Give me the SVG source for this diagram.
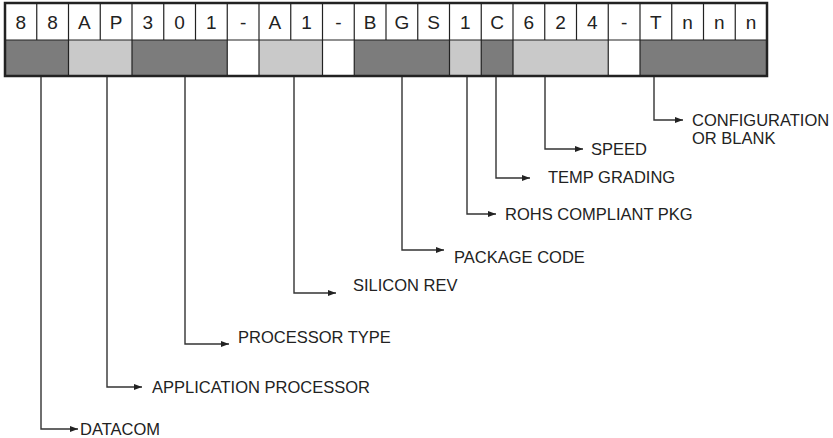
<svg xmlns="http://www.w3.org/2000/svg" width="833" height="438" viewBox="0 0 833 438">
<defs>
<style>
.cell{font-family:"Liberation Sans",Arial,sans-serif;font-size:19px;fill:#222;text-anchor:middle}
.lbl{font-family:"Liberation Sans",Arial,sans-serif;font-size:16.5px;fill:#222}
.dk{fill:#7c7c7c}
.lt{fill:#c9c9c9}
.wt{fill:#ffffff}
.div{stroke:#222;stroke-width:1.2}
.con{fill:none;stroke:#333;stroke-width:1.4}
</style>
<marker id="ah" viewBox="0 0 8 6" refX="8" refY="3" markerWidth="8" markerHeight="6" markerUnits="userSpaceOnUse" orient="auto">
<path d="M0,0 L8,3 L0,6 Z" fill="#222"/>
</marker>
</defs>
<rect width="833" height="438" fill="#fff"/>
<g id="code-box">
<rect x="5" y="3" width="762" height="73" fill="#fff"/>
<rect class="dk" x="5" y="40" width="63.5" height="36"/>
<rect class="lt" x="68.5" y="40" width="63.5" height="36"/>
<rect class="dk" x="132" y="40" width="95.25" height="36"/>
<rect class="wt" x="227.25" y="40" width="31.75" height="36"/>
<rect class="lt" x="259" y="40" width="63.5" height="36"/>
<rect class="wt" x="322.5" y="40" width="31.75" height="36"/>
<rect class="dk" x="354.25" y="40" width="95.25" height="36"/>
<rect class="lt" x="449.5" y="40" width="31.75" height="36"/>
<rect class="dk" x="481.25" y="40" width="31.75" height="36"/>
<rect class="lt" x="513" y="40" width="95.25" height="36"/>
<rect class="wt" x="608.25" y="40" width="31.75" height="36"/>
<rect class="dk" x="640" y="40" width="127" height="36"/>
<g class="div">
<line x1="5" y1="40" x2="767" y2="40"/>
<line x1="36.75" y1="3" x2="36.75" y2="40"/>
<line x1="68.5" y1="3" x2="68.5" y2="76"/>
<line x1="100.25" y1="3" x2="100.25" y2="40"/>
<line x1="132" y1="3" x2="132" y2="76"/>
<line x1="163.75" y1="3" x2="163.75" y2="40"/>
<line x1="195.5" y1="3" x2="195.5" y2="40"/>
<line x1="227.25" y1="3" x2="227.25" y2="76"/>
<line x1="259" y1="3" x2="259" y2="76"/>
<line x1="290.75" y1="3" x2="290.75" y2="40"/>
<line x1="322.5" y1="3" x2="322.5" y2="76"/>
<line x1="354.25" y1="3" x2="354.25" y2="76"/>
<line x1="386" y1="3" x2="386" y2="40"/>
<line x1="417.75" y1="3" x2="417.75" y2="40"/>
<line x1="449.5" y1="3" x2="449.5" y2="76"/>
<line x1="481.25" y1="3" x2="481.25" y2="76"/>
<line x1="513" y1="3" x2="513" y2="76"/>
<line x1="544.75" y1="3" x2="544.75" y2="40"/>
<line x1="576.5" y1="3" x2="576.5" y2="40"/>
<line x1="608.25" y1="3" x2="608.25" y2="76"/>
<line x1="640" y1="3" x2="640" y2="76"/>
<line x1="671.75" y1="3" x2="671.75" y2="40"/>
<line x1="703.5" y1="3" x2="703.5" y2="40"/>
<line x1="735.25" y1="3" x2="735.25" y2="40"/>
</g>
<rect x="5" y="3" width="762" height="73" fill="none" stroke="#222" stroke-width="2.5"/>
<g class="cell">
<text x="20.9" y="29">8</text>
<text x="52.6" y="29">8</text>
<text x="84.4" y="29">A</text>
<text x="116.1" y="29">P</text>
<text x="147.9" y="29">3</text>
<text x="179.6" y="29">0</text>
<text x="211.4" y="29">1</text>
<text x="243.1" y="29">-</text>
<text x="274.9" y="29">A</text>
<text x="306.6" y="29">1</text>
<text x="338.4" y="29">-</text>
<text x="370.1" y="29">B</text>
<text x="401.9" y="29">G</text>
<text x="433.6" y="29">S</text>
<text x="465.4" y="29">1</text>
<text x="497.1" y="29">C</text>
<text x="528.9" y="29">6</text>
<text x="560.6" y="29">2</text>
<text x="592.4" y="29">4</text>
<text x="624.1" y="29">-</text>
<text x="655.9" y="29">T</text>
<text x="687.6" y="29">n</text>
<text x="719.4" y="29">n</text>
<text x="751.1" y="29">n</text>
</g>
</g>
<g id="connectors" class="con">
<path d="M41,77 V429 H78" marker-end="url(#ah)"/>
<path d="M107,77 V387 H142" marker-end="url(#ah)"/>
<path d="M185,77 V344 H229" marker-end="url(#ah)"/>
<path d="M294,77 V293 H336" marker-end="url(#ah)"/>
<path d="M402,77 V250 H444" marker-end="url(#ah)"/>
<path d="M467,77 V214 H496" marker-end="url(#ah)"/>
<path d="M496,77 V178 H530" marker-end="url(#ah)"/>
<path d="M545,77 V149 H583" marker-end="url(#ah)"/>
<path d="M654,77 V120 H683" marker-end="url(#ah)"/>
</g>
<g id="label-datacom"><text class="lbl" x="80" y="435">DATACOM</text></g>
<g id="label-app"><text class="lbl" x="152" y="393">APPLICATION PROCESSOR</text></g>
<g id="label-proctype"><text class="lbl" x="238" y="343">PROCESSOR TYPE</text></g>
<g id="label-silicon"><text class="lbl" x="353" y="291">SILICON REV</text></g>
<g id="label-package"><text class="lbl" x="454" y="263">PACKAGE CODE</text></g>
<g id="label-rohs"><text class="lbl" x="505" y="220">ROHS COMPLIANT PKG</text></g>
<g id="label-temp"><text class="lbl" x="548" y="183">TEMP GRADING</text></g>
<g id="label-speed"><text class="lbl" x="591" y="155">SPEED</text></g>
<g id="label-config"><text class="lbl" x="692" y="126">CONFIGURATION</text><text class="lbl" x="692" y="144">OR BLANK</text></g>
</svg>
